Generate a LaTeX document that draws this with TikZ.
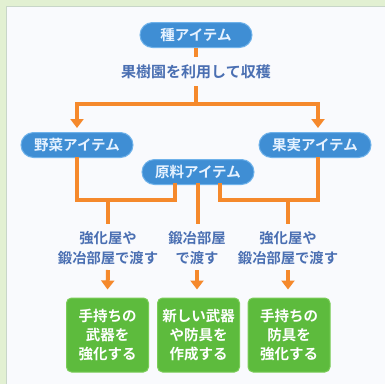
\documentclass[tikz,border=0pt]{standalone}
\usepackage{fontspec}
\setmainfont{Noto Sans CJK JP}[BoldFont={Noto Sans CJK JP Bold}]
\usetikzlibrary{arrows.meta,calc}
\definecolor{bgout}{HTML}{E2F0D2}
\definecolor{panel}{HTML}{F9FAFD}
\definecolor{panelline}{HTML}{C8D6C8}
\definecolor{pillblue}{HTML}{3F8ED4}
\definecolor{pillrim}{HTML}{6FB2EA}
\definecolor{pilltext}{HTML}{E6F2FF}
\definecolor{lblblue}{HTML}{4A6FB2}
\definecolor{org}{HTML}{F5892C}
\definecolor{boxgreen}{HTML}{5DBB3D}
\definecolor{boxrim}{HTML}{7ACC58}
\tikzset{
  pill/.style={rounded corners=12.5pt, minimum width=112pt, minimum height=25pt,
    fill=pillblue, draw=pillrim, line width=1pt, text=pilltext, inner sep=0pt,
    font=\bfseries\fontsize{14.5}{16}\selectfont},
  lbl/.style={text=lblblue, align=center, inner sep=0pt,
    font=\bfseries\fontsize{14.3}{20}\selectfont},
  hlbl/.style={lbl, font=\bfseries\fontsize{15}{20}\selectfont},
  gbox/.style={rounded corners=5pt, minimum width=82pt, minimum height=74pt,
    fill=boxgreen, draw=boxrim, line width=1pt, text=white, align=center, inner sep=0pt,
    font=\bfseries\fontsize{14.5}{19}\selectfont},
  conn/.style={draw=org, line width=4pt},
  arr/.style={draw=org, line width=4pt, -{Triangle[width=13pt,length=9pt]}},
}
\begin{document}
\begin{tikzpicture}[x=1pt,y=-1pt]
\useasboundingbox (0,0) rectangle (385,384);
\fill[bgout] (0,0) rectangle (385,384);
\fill[panel] (6,6) rectangle (385,384);
\draw[panelline, line width=1pt] (6,384) -- (6,6) -- (385,6);

\node[pill] (seed) at (196,35) {種アイテム};
\node[hlbl] (harv) at (196,72) {果樹園を利用して収穫};
\node[pill] (veg) at (77,145) {野菜アイテム};
\node[pill] (fruit) at (315,145) {果実アイテム};
\node[pill] (raw) at (198,172) {原料アイテム};

\node[lbl] (l1) at (108,248) {強化屋や\\鍛冶部屋で渡す};
\node[lbl] (l2) at (197,248) {鍛冶部屋\\で渡す};
\node[lbl] (l3) at (288,248) {強化屋や\\鍛冶部屋で渡す};

\node[gbox] (b1) at (107.5,335) {手持ちの\\武器を\\強化する};
\node[gbox] (b2) at (198.5,335) {新しい武器\\や防具を\\作成する};
\node[gbox] (b3) at (289,335) {手持ちの\\防具を\\強化する};

% top connectors
\coordinate (s1) at (196,57);
\draw[conn] (seed.south) -- (s1);
\coordinate (h1) at (196,86);
\coordinate (hj) at (196,104);
\coordinate (hl) at (77,104);
\coordinate (hr) at (318,104);
\coordinate (vt) at (77,128);
\coordinate (ft) at (318,128);
\draw[conn] (h1) -- (hj);
\draw[conn] (hl) -- (hr);
\draw[arr] ($(hl)+(0,-2)$) -- (vt);
\draw[arr] ($(hr)+(0,-2)$) -- (ft);

% middle connectors
\coordinate (vb) at (77,157);
\coordinate (fb) at (318,157);
\coordinate (ra) at (175,183);
\coordinate (rb) at (220,183);
\draw[conn, line join=miter] (vb) |- (175,200) -- (ra);
\draw[conn, line join=miter] (fb) |- (220,200) -- (rb);
\coordinate (j1) at (108,198);
\coordinate (j3) at (288,198);
\coordinate (rm) at (198,183);
\coordinate (e1) at (108,224);
\coordinate (e2) at (198,224);
\coordinate (e3) at (288,224);
\draw[conn] (j1) -- (e1);
\draw[conn] (rm) -- (e2);
\draw[conn] (j3) -- (e3);

% bottom arrows
\coordinate (a1) at (108,270);
\coordinate (a2) at (197,270);
\coordinate (a3) at (288,270);
\draw[arr] (a1) -- ($(b1.north)+(0,-8)$);
\draw[arr] (a2) -- ($(b2.north)+(-1.5,-8)$);
\draw[arr] (a3) -- ($(b3.north)+(-1,-8)$);
\end{tikzpicture}
\end{document}
